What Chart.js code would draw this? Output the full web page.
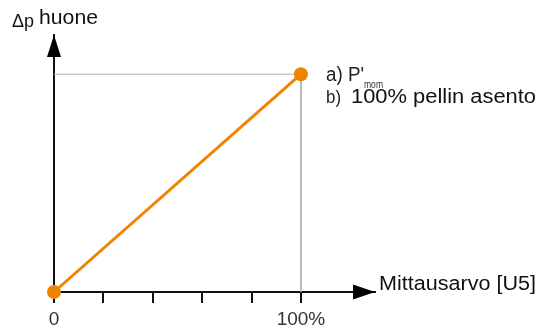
<!DOCTYPE html>
<html>
<head>
<meta charset="utf-8">
<script src="https://cdn.jsdelivr.net/npm/chart.js@4/dist/chart.umd.min.js"></script>
<style>
html,body{margin:0;padding:0;background:#fff;}
#wrap{width:545px;height:329px;position:relative;}
</style>
</head>
<body>
<div id="wrap"><canvas id="c" width="545" height="329"></canvas></div>
<script>
// ---- data ----
const lineX = [0, 100];            // Mittausarvo [U5], %
const lineY = [0, 100];            // Δp huone, % of P'mom
const guideX = [0, 100, 100];
const guideY = [100, 100, 0];
const tickValues = [0, 20, 40, 60, 80, 100];
const tickLabels = {0: '0', 100: '100%'};
const xTitle = 'Mittausarvo [U5]';
const yTitleA = 'Δp';
const yTitleB = 'huone';
const noteA = "a) P'";
const noteASub = 'mom';
const noteB1 = 'b)';
const noteB2 = '100% pellin asento';

const ORANGE = '#F08300';
const FONT = '"Liberation Sans", Arial, Helvetica, sans-serif';

function drawScaledText(ctx, str, x, y, px, targetW, color, weight) {
  ctx.save();
  ctx.font = (weight || 'normal') + ' ' + px + 'px ' + FONT;
  ctx.fillStyle = color;
  ctx.textBaseline = 'alphabetic';
  ctx.textAlign = 'left';
  const w = ctx.measureText(str).width;
  const sx = targetW ? targetW / w : 1;
  ctx.translate(x, y);
  ctx.scale(sx, 1);
  ctx.fillText(str, 0, 0);
  ctx.restore();
}

const decor = {
  id: 'decor',
  afterDraw(chart) {
    const ctx = chart.ctx;
    const a = chart.chartArea;
    const xs = chart.scales.x, ys = chart.scales.y;
    const x0 = xs.getPixelForValue(0), y0 = ys.getPixelForValue(0);
    ctx.save();
    ctx.fillStyle = '#000';
    // x arrow
    ctx.beginPath();
    ctx.moveTo(a.right, y0);
    ctx.lineTo(a.right - 22, y0 - 7.5);
    ctx.lineTo(a.right - 22, y0 + 7.5);
    ctx.closePath();
    ctx.fill();
    // y arrow
    ctx.beginPath();
    ctx.moveTo(x0, a.top);
    ctx.lineTo(x0 - 7, a.top + 22);
    ctx.lineTo(x0 + 7, a.top + 22);
    ctx.closePath();
    ctx.fill();
    ctx.restore();

    drawScaledText(ctx, xTitle, a.right + 4, y0 - 2, 20, 157, '#111');
    drawScaledText(ctx, yTitleA, 12, 27, 18, 22, '#111');
    drawScaledText(ctx, yTitleB, 39, 24, 20, 59, '#111');
    drawScaledText(ctx, noteA, 326, 81, 20, 38, '#222');
    drawScaledText(ctx, noteASub, 364, 88, 11, 19, '#333');
    drawScaledText(ctx, noteB1, 326, 103, 19, 15, '#222');
    drawScaledText(ctx, noteB2, 351, 103, 20, 185, '#111');
  }
};

new Chart(document.getElementById('c'), {
  type: 'scatter',
  data: {
    datasets: [
      {
        data: lineX.map((v, i) => ({x: v, y: lineY[i]})),
        showLine: true,
        borderColor: ORANGE,
        backgroundColor: ORANGE,
        borderWidth: 3,
        pointRadius: 7,
        pointBorderWidth: 0,
        pointBackgroundColor: ORANGE,
        clip: false,
        order: 1
      },
      {
        data: guideX.map((v, i) => ({x: v, y: guideY[i]})),
        showLine: true,
        borderColor: '#b0b0b0',
        borderWidth: 1,
        pointRadius: 0,
        clip: false,
        order: 2
      }
    ]
  },
  options: {
    responsive: false,
    animation: false,
    devicePixelRatio: 1,
    layout: {padding: {top: 35, right: 170, left: 0, bottom: 0}},
    plugins: {legend: {display: false}, tooltip: {enabled: false}},
    events: [],
    scales: {
      x: {
        type: 'linear',
        min: 0, max: 130,
        afterBuildTicks(s) { s.ticks = tickValues.map(v => ({value: v})); },
        afterFit(s) { s.height = 37; },
        border: {display: true, color: '#111', width: 2},
        grid: {display: true, drawOnChartArea: false, drawTicks: true, tickLength: 11, color: '#111', lineWidth: 2},
        ticks: {
          autoSkip: false,
          maxRotation: 0,
          padding: 5,
          color: '#333',
          font: {family: FONT, size: 19},
          callback: (v) => (tickLabels[v] !== undefined ? tickLabels[v] : '')
        }
      },
      y: {
        type: 'linear',
        min: 0, max: 118,
        afterFit(s) { s.width = 54; },
        border: {display: true, color: '#111', width: 2},
        grid: {display: false},
        ticks: {display: false}
      }
    }
  },
  plugins: [decor]
});
</script>
</body>
</html>
